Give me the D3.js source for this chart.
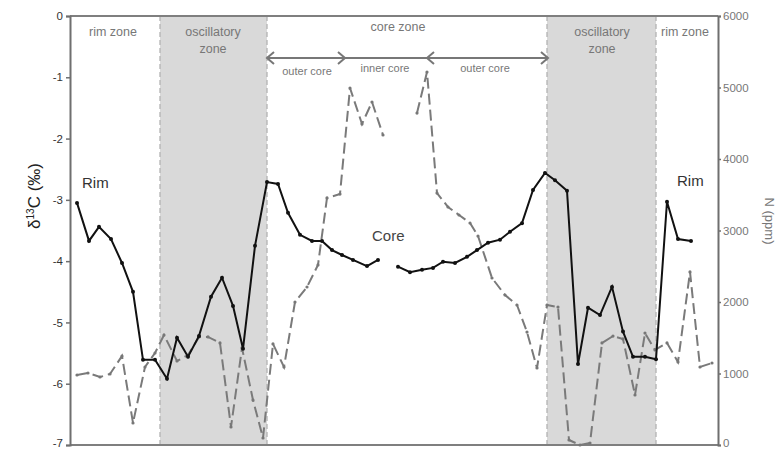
<!DOCTYPE html>
<html>
<head>
<meta charset="utf-8">
<script src="https://cdn.jsdelivr.net/npm/d3@7"></script>
<style>
  body { margin: 0; background: #fff; }
  svg { font-family: "Liberation Sans", Arial, sans-serif; }
</style>
</head>
<body>
<svg width="784" height="449"></svg>
<script>
// traverse position (arbitrary units along the profile)
var carbonPos = [7,19,29,41,52,63,73,85,97,107,118,129,141,152,163,173,185,197,208,218,230,242,252,262,272,283,297,308,318,
                 328,340,352,363,373,385,397,407,418,430,440,452,463,475,485,497,508,518,530,542,553,563,575,586,597,608,621];
var carbonVal = [-3.05,-3.67,-3.44,-3.64,-4.03,-4.50,-5.61,-5.61,-5.92,-5.25,-5.56,-5.22,-4.58,-4.27,-4.73,-5.43,-3.75,-2.71,-2.74,-3.21,-3.57,-3.67,-3.67,-3.82,-3.90,-3.98,-4.08,-3.98,null,
                 -4.09,-4.18,-4.14,-4.11,-4.01,-4.03,-3.93,-3.82,-3.70,-3.65,-3.52,-3.38,-2.84,-2.56,-2.68,-2.85,-5.68,-4.76,-4.88,-4.42,-5.15,-5.56,-5.56,-5.60,-3.03,-3.64,-3.67];

var nitroPos = [7,18,30,40,52,63,75,85,94,107,118,129,138,150,161,172,183,193,203,214,225,237,248,257,270,280,292,302,313,330,
                347,357,367,378,389,400,408,422,435,447,457,467,477,488,499,510,520,532,543,553,565,575,585,597,608,620,630,642];
var nitroVal = [979,1007,951,993,1245,308,1091,1287,1538,1175,1259,1511,1511,1427,252,1357,629,98,1413,1091,2000,2210,2518,3455,3510,4993,4490,4797,4336,null,
                4643,5217,3524,3329,3217,3105,2923,2336,2098,1958,1580,1077,1958,1930,70,0,28,1427,1524,1483,699,1566,1329,1427,1161,2420,1091,1147];

var leftTicks = [0,-1,-2,-3,-4,-5,-6,-7];
var rightTicks = [0,1000,2000,3000,4000,5000,6000];

var zones = [{from: 90, to: 197}, {from: 477, to: 586}];
var zoneLabels = [
  {x: 43, lines: ["rim zone"]},
  {x: 143, lines: ["oscillatory", "zone"]},
  {x: 532, lines: ["oscillatory", "zone"]},
  {x: 615, lines: ["rim zone"]}
];
var coreMarks = [197, 275, 357, 478];
var coreLabels = [{x: 237, t: "outer core", dy: 12}, {x: 315, t: "inner core", dy: 9}, {x: 415, t: "outer core", dy: 9}];

(function() {
  var svg = d3.select("svg");
  var pl = 70, pr = 718, pt = 16, pb = 445;

  var x = d3.scaleLinear().domain([0, 648]).range([pl, pr]);
  var yC = d3.scaleLinear().domain([-7, 0]).range([pb, pt]);
  var yN = d3.scaleLinear().domain([0, 6000]).range([pb, pt]);

  // shaded oscillatory zones
  svg.selectAll("rect.zone")
    .data(zones)
    .enter()
    .append("rect")
    .attr("class", "zone")
    .attr("x", function(d) { return x(d.from); })
    .attr("y", pt)
    .attr("width", function(d) { return x(d.to) - x(d.from); })
    .attr("height", pb - pt)
    .attr("fill", "#d9d9d9");

  var edges = [];
  zones.forEach(function(z) { edges.push(z.from, z.to); });
  svg.selectAll("line.edge")
    .data(edges)
    .enter()
    .append("line")
    .attr("x1", function(d) { return x(d); })
    .attr("x2", function(d) { return x(d); })
    .attr("y1", pt)
    .attr("y2", pb)
    .attr("stroke", "#b3b3b3")
    .attr("stroke-width", 1.3)
    .attr("stroke-dasharray", "5,3");

  // frame lines
  svg.append("line").attr("x1", pl).attr("x2", pr).attr("y1", pt).attr("y2", pt)
    .attr("stroke", "#7f7f7f").attr("stroke-width", 2);
  svg.append("line").attr("x1", pl).attr("x2", pr).attr("y1", pb).attr("y2", pb)
    .attr("stroke", "#7f7f7f").attr("stroke-width", 2);

  // axes
  var gl = svg.append("g").attr("transform", "translate(" + pl + ",0)")
    .call(d3.axisLeft(yC).tickValues(leftTicks).tickSize(4).tickFormat(d3.format("d")));
  var gr = svg.append("g").attr("transform", "translate(" + pr + ",0)")
    .call(d3.axisRight(yN).tickValues(rightTicks).tickSize(3).tickFormat(d3.format("d")));
  [gl, gr].forEach(function(g) {
    g.select(".domain").attr("stroke", "#6f6f6f").attr("stroke-width", 2);
    g.selectAll(".tick line").attr("stroke", "#6f6f6f").attr("stroke-width", 1.5);
    g.selectAll(".tick text").style("font-size", "11.5px")
      .style("font-family", "'Liberation Sans', Arial, sans-serif");
  });
  gl.selectAll(".tick text").attr("x", -7).style("fill", "#333")
    .text(function(d) { return d3.format("d")(d).replace("−", "-"); });
  gr.selectAll(".tick text").attr("x", 5).style("fill", "#777");
  // keep the bottom labels inside the picture
  gl.selectAll(".tick text").filter(function(d) { return d === -7; }).attr("dy", "0.1em");
  gr.selectAll(".tick text").filter(function(d) { return d === 0; }).attr("dy", "0.1em");

  // axis titles
  var yt = svg.append("text")
    .attr("transform", "translate(40,196) rotate(-90)")
    .attr("text-anchor", "middle")
    .attr("fill", "#222")
    .style("font-size", "17px");
  yt.append("tspan").text("δ");
  yt.append("tspan").attr("dy", -6).style("font-size", "10px").text("13");
  yt.append("tspan").attr("dy", 6).text("C (‰)");

  svg.append("text")
    .attr("transform", "translate(765,221) rotate(90)")
    .attr("text-anchor", "middle")
    .attr("fill", "#777")
    .style("font-size", "13px")
    .text("N (ppm)");

  // zone labels
  zoneLabels.forEach(function(z) {
    z.lines.forEach(function(t, i) {
      svg.append("text")
        .attr("x", x(z.x))
        .attr("y", 36 + i * 17)
        .attr("text-anchor", "middle")
        .attr("fill", "#777")
        .style("font-size", "12.5px")
        .text(t);
    });
  });
  svg.append("text").attr("x", x(328)).attr("y", 31).attr("text-anchor", "middle")
    .attr("fill", "#777").style("font-size", "12.5px").text("core zone");

  // core arrows
  svg.append("line").attr("x1", x(coreMarks[0])).attr("x2", x(coreMarks[3]))
    .attr("y1", 58).attr("y2", 58).attr("stroke", "#777").attr("stroke-width", 2);
  var heads = [{x: coreMarks[0], dir: -1}, {x: coreMarks[1], dir: 1}, {x: coreMarks[2], dir: -1}, {x: coreMarks[3], dir: 1}];
  svg.selectAll("path.head")
    .data(heads)
    .enter()
    .append("path")
    .attr("d", function(d) {
      var px = x(d.x);
      return "M" + (px - d.dir * 7) + ",52 L" + px + ",58 L" + (px - d.dir * 7) + ",64";
    })
    .attr("fill", "none")
    .attr("stroke", "#777")
    .attr("stroke-width", 2);
  coreLabels.forEach(function(c) {
    svg.append("text").attr("x", x(c.x)).attr("y", 58 + c.dy + 5).attr("text-anchor", "middle")
      .attr("fill", "#777").style("font-size", "11px").text(c.t);
  });

  // N line (dashed grey)
  var nData = nitroPos.map(function(p, i) { return {p: p, v: nitroVal[i]}; });
  var nLine = d3.line()
    .defined(function(d) { return d.v != null; })
    .x(function(d) { return x(d.p); })
    .y(function(d) { return yN(d.v); });
  svg.append("path")
    .datum(nData)
    .attr("d", nLine)
    .attr("fill", "none")
    .attr("stroke", "#7a7a7a")
    .attr("stroke-width", 2)
    .attr("stroke-dasharray", "11,5");
  svg.selectAll("circle.n")
    .data(nData.filter(function(d) { return d.v != null; }))
    .enter()
    .append("circle")
    .attr("cx", function(d) { return x(d.p); })
    .attr("cy", function(d) { return yN(d.v); })
    .attr("r", 1.6)
    .attr("fill", "#777");

  // d13C line (solid black)
  var cData = carbonPos.map(function(p, i) { return {p: p, v: carbonVal[i]}; });
  var cLine = d3.line()
    .defined(function(d) { return d.v != null; })
    .x(function(d) { return x(d.p); })
    .y(function(d) { return yC(d.v); });
  svg.append("path")
    .datum(cData)
    .attr("d", cLine)
    .attr("fill", "none")
    .attr("stroke", "#111")
    .attr("stroke-width", 2);
  svg.selectAll("circle.c")
    .data(cData.filter(function(d) { return d.v != null; }))
    .enter()
    .append("circle")
    .attr("cx", function(d) { return x(d.p); })
    .attr("cy", function(d) { return yC(d.v); })
    .attr("r", 2)
    .attr("fill", "#111");

  // annotations
  svg.append("text").attr("x", x(12)).attr("y", 188).attr("fill", "#333").style("font-size", "15px").text("Rim");
  svg.append("text").attr("x", x(607)).attr("y", 186).attr("fill", "#333").style("font-size", "15px").text("Rim");
  svg.append("text").attr("x", x(302)).attr("y", 241).attr("fill", "#444").style("font-size", "15px").text("Core");
})();
</script>
</body>
</html>
